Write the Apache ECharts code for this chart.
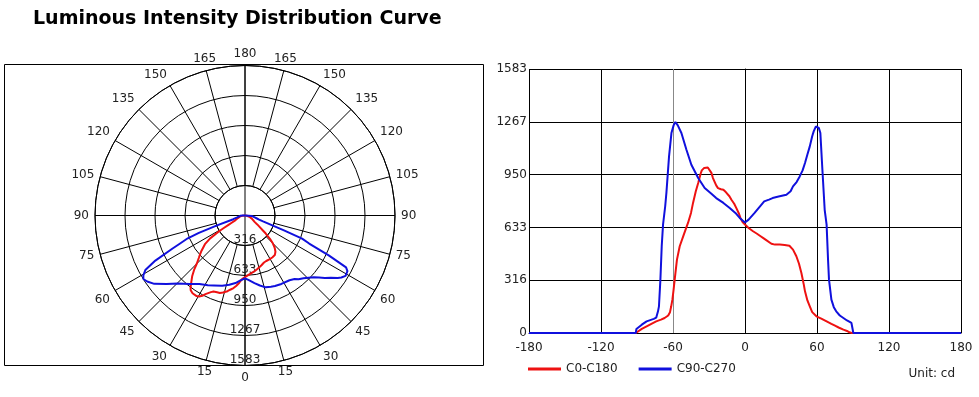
<!DOCTYPE html>
<html>
<head>
<meta charset="utf-8">
<script src="https://cdn.jsdelivr.net/npm/echarts@6/dist/echarts.min.js"></script>
<style>
    html, body { margin: 0; padding: 0; background: #fff; }
    #main { width: 979px; height: 397px; }
</style>
</head>
<body>
<div id="main"></div>
<script>
    // C0-C180 plane: gamma angle (deg) and intensity (cd)
    const c0Angles = [-180, -91, -90.5, -86, -82, -78, -74, -70, -67, -64, -62.5, -61.5, -60.5, -59.5, -58.6, -56.7, -54.4, -51, -49, -47.5, -45, -43.3, -41, -39, -37, -36, -34, -31, -29.5, -28, -26.7, -24, -22.5, -20, -18, -16, -15, -13, -11.3, -9, -7.2, -5, -3.8, -2, 0, 3, 6.7, 10, 13, 15, 18, 22, 25, 29, 33, 37, 40, 42.8, 45, 47, 49, 50, 52, 54, 56, 59.5, 64, 68, 72, 75, 78, 82, 85, 87, 89, 180];
    const c0Values = [0, 0, 5, 25, 40, 55, 70, 80, 90, 105, 125, 160, 200, 260, 320, 440, 520, 590, 630, 660, 720, 780, 850, 900, 955, 975, 990, 992, 983, 960, 929, 885, 869, 862, 859, 845, 839, 820, 799, 775, 749, 715, 690, 665, 650, 630, 610, 595, 580, 570, 555, 535, 530, 530, 528, 523, 500, 460, 415, 360, 290, 250, 195, 160, 125, 100, 85, 70, 55, 44, 33, 20, 12, 4, 0, 0];

    // C90-C270 plane
    const c90Angles = [-180, -91, -90.5, -86, -82, -76, -74, -72.5, -71.7, -70.5, -69.4, -68.3, -66.5, -65.5, -63.3, -61.3, -59.5, -58, -56, -53, -48.8, -44.7, -39, -33.6, -28, -24, -18, -12.75, -8, -4.4, -2, 0, 3, 8, 12, 16, 20, 23, 28, 34.5, 38, 40, 43, 45.6, 48, 50, 52, 54, 56, 57.25, 59, 60, 61.5, 62.8, 64.5, 66.4, 68, 69.2, 70, 72, 74, 76, 79, 82, 85, 88.7, 90, 90.3, 180];
    const c90Values = [0, 0, 24, 50, 70, 85, 92, 130, 160, 320, 520, 650, 760, 840, 1059, 1199, 1245, 1265, 1245, 1199, 1099, 1009, 929, 869, 835, 809, 780, 750, 720, 690, 675, 663, 680, 720, 755, 789, 800, 809, 818, 829, 850, 879, 905, 939, 975, 1019, 1070, 1119, 1180, 1209, 1238, 1243, 1230, 1199, 979, 739, 650, 440, 320, 200, 155, 130, 105, 90, 75, 60, 55, 0, 0];

    const yLabels = ['0', '316', '633', '950', '1267', '1583'];
    const maxCd = 1583;
    const step = maxCd / 5;

    const txt = '#222';
    const font = 'DejaVu Sans';

    let myChart = echarts.init(document.getElementById('main'));

    // cartesian pairs
    let c0Xy = c0Angles.map((a, i) => [a, c0Values[i]]);
    let c90Xy = c90Angles.map((a, i) => [a, c90Values[i]]);
    // polar pairs: [radius, angle], angle 0 at bottom
    let c0Polar = c0Angles.map((a, i) => [c0Values[i], (a + 360) % 360]);
    let c90Polar = c90Angles.map((a, i) => [c90Values[i], (a + 360) % 360]);

    let option = {
        animation: false,
        textStyle: { fontFamily: font },
        title: [
            {
                text: 'Luminous Intensity Distribution Curve',
                left: 28,
                top: 5,
                textStyle: { fontSize: 19, fontWeight: 'bold', color: '#000', fontFamily: font }
            },
            {
                text: 'Unit: cd',
                right: 19,
                top: 363,
                textStyle: { fontSize: 12, fontWeight: 'normal', color: txt, fontFamily: font }
            }
        ],
        graphic: [
            {
                type: 'rect',
                z: -1,
                shape: { x: 4.5, y: 64.5, width: 479, height: 301 },
                style: { fill: 'none', stroke: '#000', lineWidth: 1 }
            }
        ],
        legend: {
            left: 528,
            top: 363,
            padding: 0,
            icon: 'rect',
            itemWidth: 33,
            itemHeight: 3,
            itemGap: 21,
            textStyle: { fontSize: 12, color: txt, fontFamily: font },
            data: ['C0-C180', 'C90-C270']
        },
        polar: [
            { center: [245, 215.5], radius: [0, 150] },
            { center: [245, 215.5], radius: [30, 150] }
        ],
        angleAxis: [
            {
                // only the two diameters
                polarIndex: 0,
                type: 'value',
                min: 0,
                max: 360,
                interval: 90,
                startAngle: 270,
                clockwise: false,
                axisLine: { show: false },
                axisTick: { show: false },
                axisLabel: { show: false },
                splitLine: { show: true, lineStyle: { color: '#000', width: 1 } }
            },
            {
                polarIndex: 1,
                type: 'value',
                min: -180,
                max: 180,
                interval: 15,
                startAngle: 90,
                clockwise: false,
                axisLine: { show: true, lineStyle: { color: '#000', width: 1 } },
                axisTick: { show: false },
                axisLabel: {
                    margin: 6,
                    fontSize: 12,
                    color: txt,
                    formatter: v => String(Math.abs(v))
                },
                splitLine: { show: true, lineStyle: { color: '#000', width: 1 } }
            }
        ],
        radiusAxis: [
            {
                polarIndex: 0,
                type: 'value',
                min: 0,
                max: maxCd,
                interval: step,
                axisLine: { show: false },
                axisTick: { show: false },
                axisLabel: {
                    showMinLabel: false,
                    margin: 0,
                    align: 'center',
                    verticalAlign: 'bottom',
                    fontSize: 12,
                    color: txt,
                    formatter: v => yLabels[Math.round(v / step)]
                },
                splitLine: { show: true, lineStyle: { color: '#000', width: 1 } }
            },
            {
                polarIndex: 1,
                type: 'value',
                min: 0,
                max: 1,
                show: false
            }
        ],
        grid: { left: 529, top: 69, width: 432, height: 264 },
        xAxis: {
            type: 'value',
            min: -180,
            max: 180,
            interval: 60,
            axisLine: { lineStyle: { color: '#000' } },
            axisTick: { show: false },
            axisLabel: { margin: 9, fontSize: 12, color: txt },
            splitLine: {
                show: true,
                lineStyle: { color: ['#000', '#000', '#888', '#000', '#000', '#000', '#000'], width: 1 }
            }
        },
        yAxis: {
            type: 'value',
            min: 0,
            max: maxCd,
            interval: step,
            axisLine: { show: true, lineStyle: { color: '#000' } },
            axisTick: { show: false },
            axisLabel: {
                margin: 2,
                fontSize: 12,
                color: txt,
                formatter: v => yLabels[Math.round(v / step)]
            },
            splitLine: { show: true, lineStyle: { color: '#000', width: 1 } }
        },
        series: [
            {
                name: 'C0-C180',
                type: 'line',
                coordinateSystem: 'polar',
                polarIndex: 0,
                data: c0Polar,
                showSymbol: false,
                lineStyle: { color: '#ee1111', width: 2 },
                itemStyle: { color: '#ee1111' }
            },
            {
                name: 'C90-C270',
                type: 'line',
                coordinateSystem: 'polar',
                polarIndex: 0,
                data: c90Polar,
                showSymbol: false,
                lineStyle: { color: '#1010dd', width: 2 },
                itemStyle: { color: '#1010dd' }
            },
            {
                name: 'C0-C180',
                type: 'line',
                data: c0Xy,
                showSymbol: false,
                lineStyle: { color: '#ee1111', width: 2 },
                itemStyle: { color: '#ee1111' }
            },
            {
                name: 'C90-C270',
                type: 'line',
                data: c90Xy,
                showSymbol: false,
                lineStyle: { color: '#1010dd', width: 2 },
                itemStyle: { color: '#1010dd' }
            }
        ]
    };

    myChart.setOption(option);
</script>
</body>
</html>
